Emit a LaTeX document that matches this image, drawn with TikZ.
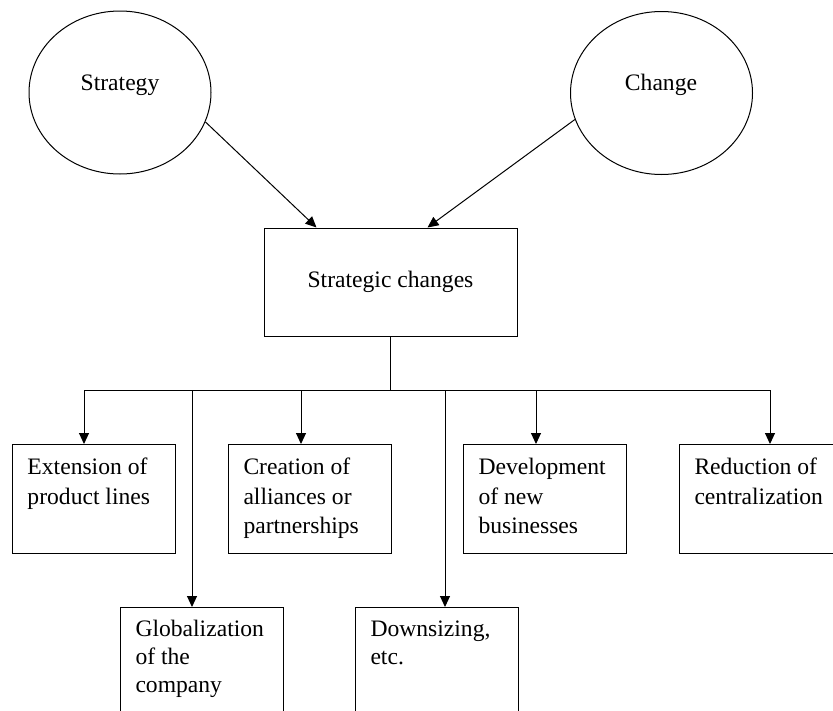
\documentclass[tikz,border=0pt]{standalone}
\usepackage{fontspec}
\setmainfont{Liberation Serif}
\usetikzlibrary{arrows.meta,shapes.geometric,calc}
\newcommand{\leaftext}[3]{\begin{minipage}[t][109pt][t]{163pt}\fontsize{23.6pt}{#2}\selectfont\leftskip=15pt\rule{0pt}{#1}#3\end{minipage}}
\begin{document}
\begin{tikzpicture}[x=1pt,y=-1pt,
  every node/.style={font=\fontsize{23.6pt}{29.5pt}\selectfont},
  circ/.style={draw, ellipse, line width=1pt, inner sep=0pt, minimum width=182pt, minimum height=163pt},
  lbl/.style={anchor=base, inner sep=0pt},
  mainbox/.style={draw, rectangle, line width=1pt, minimum width=253pt, minimum height=108pt, inner sep=0pt},
  leaf/.style={draw, rectangle, line width=1pt, anchor=north west, inner sep=0pt},
  conn/.style={line width=1pt},
  arr/.style={line width=1pt, -{Triangle[length=11pt,width=10pt]}},
]
\useasboundingbox (0,0) rectangle (833,710);
\clip (0,0) rectangle (833,710);

\node[circ] (strat) at (120,92.5) {};
\node[circ] (chg) at (661.5,93) {};
\node[lbl] (stratT) at (120,90) {Strategy};
\node[lbl] (chgT) at (661,90) {Change};
\node[mainbox] (sc) at (390.5,282) {Strategic changes};

\node[leaf] (ext) at (12,444) {\leaftext{30pt}{29.5pt}{Extension of\\product lines}};
\node[leaf] (cre) at (228,444) {\leaftext{30pt}{29.5pt}{Creation of\\alliances or\\partnerships}};
\node[leaf] (dev) at (463,444) {\leaftext{30pt}{29.5pt}{Development\\of new\\businesses}};
\node[leaf] (red) at (679,444) {\leaftext{30pt}{29.5pt}{Reduction of\\centralization}};
\node[leaf] (glob) at (120,607) {\leaftext{29pt}{28pt}{Globalization\\of the\\company}};
\node[leaf] (down) at (355,607) {\leaftext{29pt}{28pt}{Downsizing,\\etc.}};

\draw[arr] (strat.-19) -- ($(sc.north west)+(53,0)$);
\draw[arr] (chg.-163) -- ($(sc.north east)+(-90,0)$);

\coordinate (d1) at (84,390);
\coordinate (d2) at (192,390);
\coordinate (d3) at (301,390);
\coordinate (d4) at (445,390);
\coordinate (d5) at (536,390);
\coordinate (d6) at (770,390);
\draw[conn] (sc.south) -- (sc.south |- d1);
\draw[conn, line cap=rect] (d1) -- (d6);
\draw[arr] (d1) -- (d1 |- ext.north);
\draw[arr] (d2) -- (d2 |- glob.north);
\draw[arr] (d3) -- (d3 |- cre.north);
\draw[arr] (d4) -- (d4 |- down.north);
\draw[arr] (d5) -- (d5 |- dev.north);
\draw[arr] (d6) -- (d6 |- red.north);
\end{tikzpicture}
\end{document}
